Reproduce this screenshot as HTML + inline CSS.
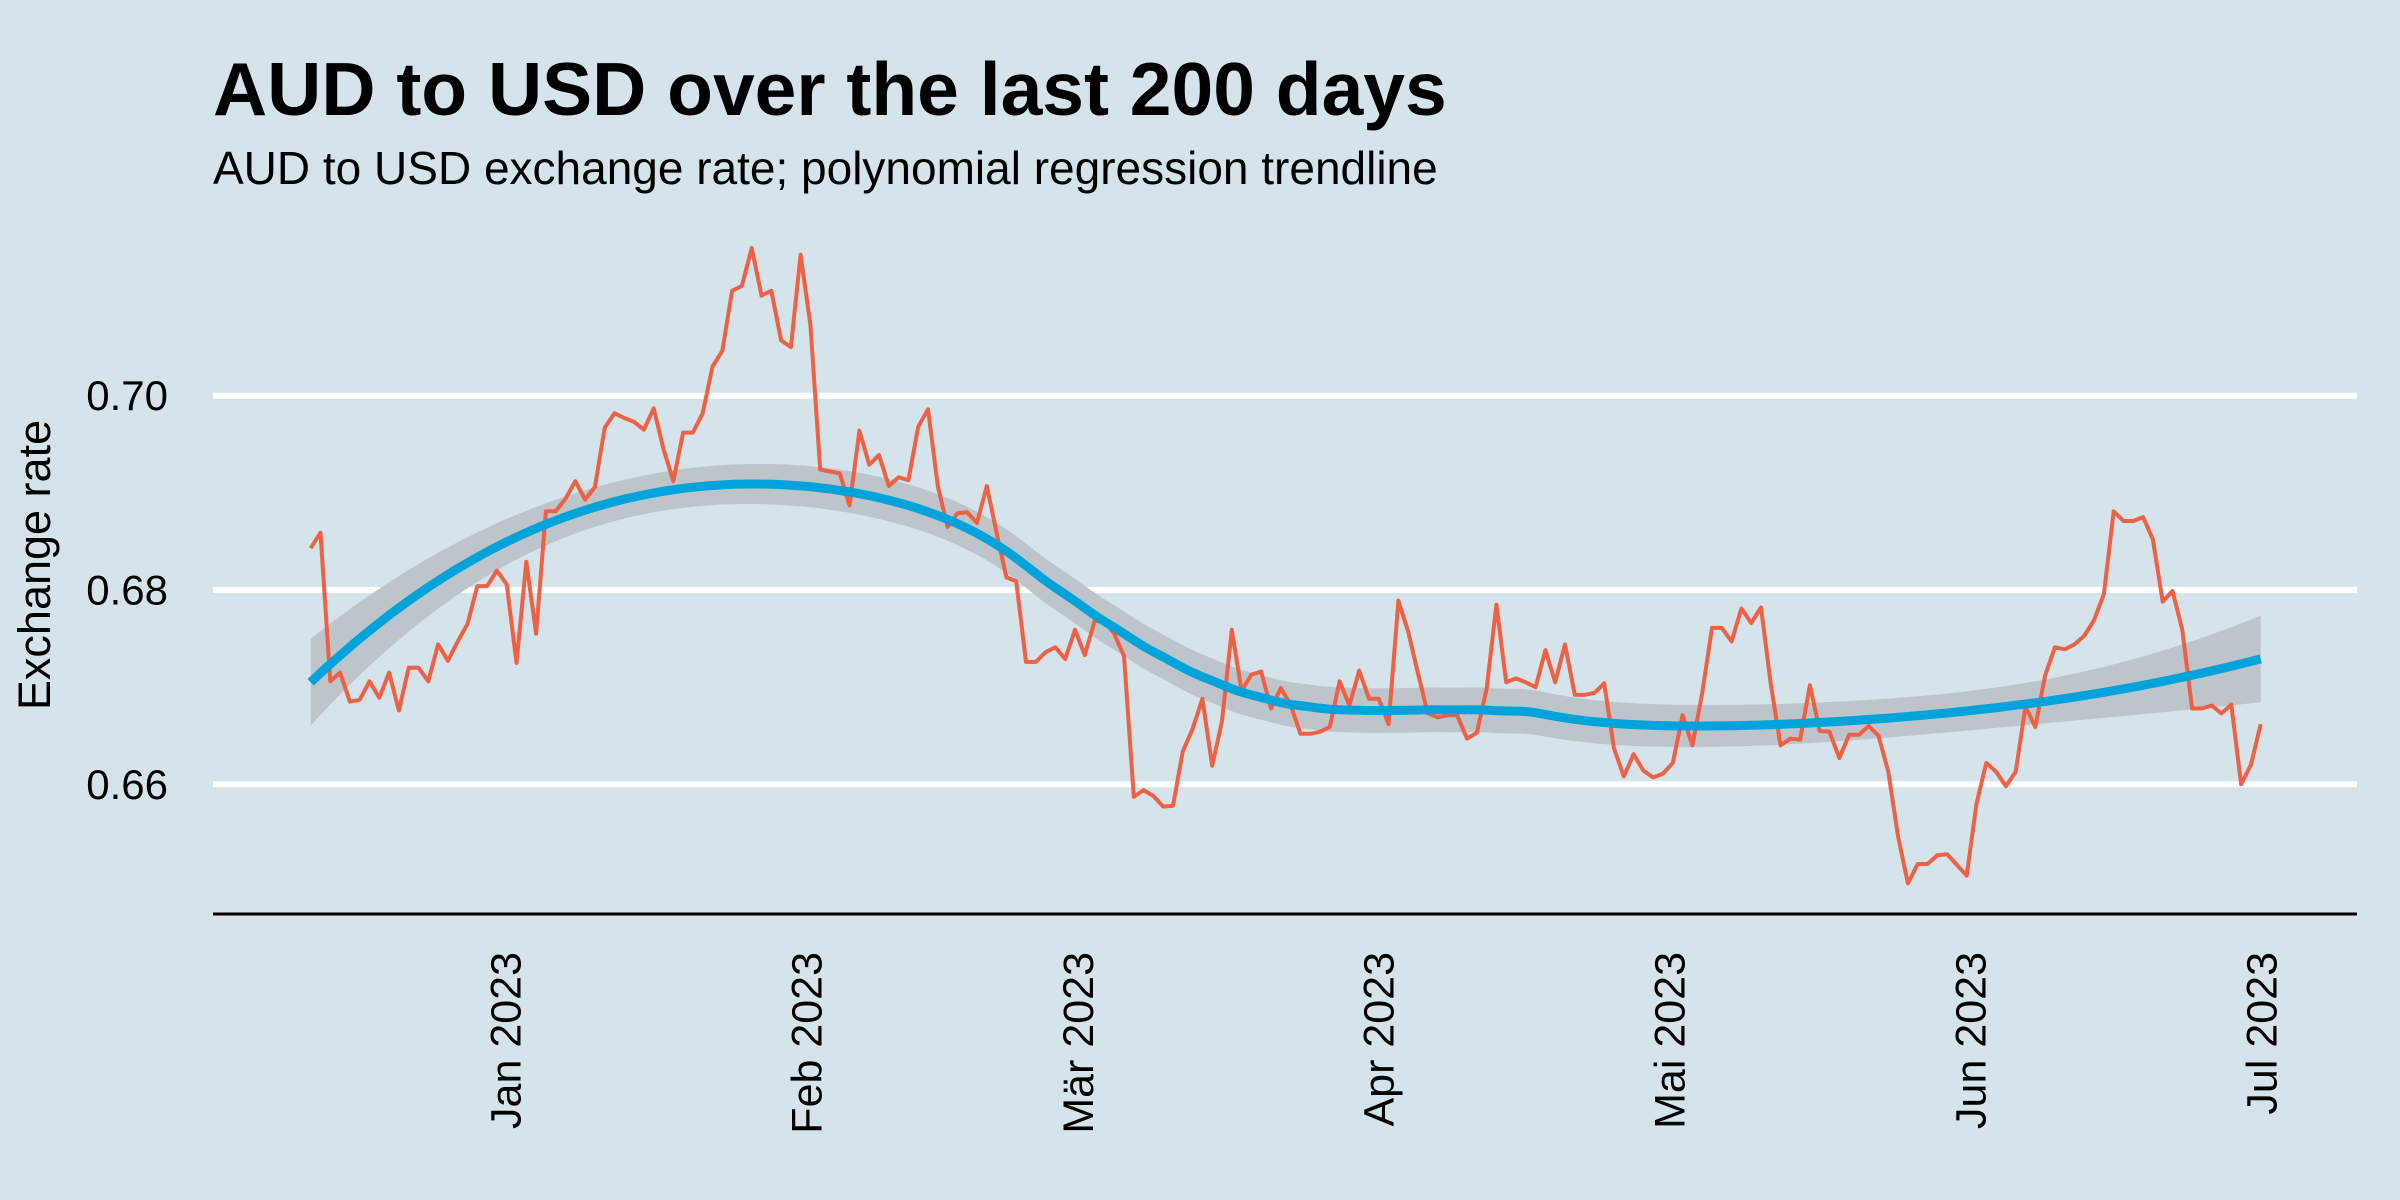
<!DOCTYPE html>
<html><head><meta charset="utf-8">
<style>
html,body{margin:0;padding:0;background:#D5E4EB;}
svg{display:block;font-family:"Liberation Sans",Arial,sans-serif;}
</style></head>
<body>
<svg id="chart" width="2400" height="1200" viewBox="0 0 2400 1200">
<rect x="0" y="0" width="2400" height="1200" fill="#D5E4EB"/>
<text x="213" y="115" font-size="75" font-weight="bold" fill="#000">AUD to USD over the last 200 days</text>
<text x="213" y="184" font-size="46" fill="#000">AUD to USD exchange rate; polynomial regression trendline</text>
<text transform="translate(50,565) rotate(-90)" text-anchor="middle" font-size="45" fill="#000">Exchange rate</text>
<g id="grid"></g>
<g id="band"></g>
<g id="series"></g>
<g id="trend"></g>
<line x1="213" y1="914" x2="2357" y2="914" stroke="#000" stroke-width="3"/>
<g id="xticks"></g>
</svg>
<script>
const rates = [
0.6843,0.6859,0.6706,0.6715,0.6685,0.6687,0.6706,0.6689,0.6715,0.6676,
0.6720,0.6720,0.6706,0.6744,0.6727,0.6747,0.6765,0.6804,0.6804,0.6820,
0.6806,0.6725,0.6829,0.6755,0.6881,0.6881,0.6894,0.6912,0.6893,0.6906,
0.6967,0.6982,0.6977,0.6973,0.6965,0.6987,0.6945,0.6912,0.6962,0.6962,
0.6982,0.7030,0.7046,0.7108,0.7113,0.7152,0.7103,0.7108,0.7057,0.7050,
0.7145,
0.7073,0.6924,0.6922,0.6920,0.6887,0.6964,0.6929,0.6939,0.6907,0.6916,
0.6913,0.6968,0.6986,0.6907,0.6865,0.6879,0.6880,0.6869,0.6907,0.6859,
0.6813,0.6809,0.6726,0.6726,0.6736,0.6741,0.6729,0.6759,0.6733,0.6768,
0.6768,0.6755,0.6732,0.6587,0.6594,0.6588,0.6577,0.6578,0.6634,0.6657,
0.6688,0.6619,0.6665,0.6759,0.6696,0.6713,0.6716,0.6678,0.6699,0.6682,
0.6652,0.6652,
0.6654,0.6659,0.6706,0.6681,0.6717,0.6688,0.6688,0.6662,0.6789,0.6757,
0.6714,0.6673,0.6669,0.6671,0.6671,0.6647,0.6653,0.6698,0.6785,0.6705,
0.6709,0.6705,0.6700,0.6738,0.6705,0.6744,0.6692,0.6692,0.6694,0.6704,
0.6637,0.6608,0.6631,0.6614,0.6607,0.6611,0.6622,0.6671,0.6640,0.6694,
0.6761,0.6761,0.6747,0.6781,0.6766,0.6782,0.6703,0.6640,0.6647,0.6646,
0.6702,
0.6655,0.6654,0.6627,0.6651,0.6651,0.6660,0.6650,0.6613,0.6546,0.6498,
0.6518,0.6518,0.6527,0.6528,0.6517,0.6506,0.6580,0.6622,0.6613,0.6598,
0.6613,0.6680,0.6659,0.6712,0.6741,0.6739,0.6744,0.6753,0.6769,0.6796,
0.6881,0.6871,0.6871,0.6875,0.6852,0.6788,0.6799,0.6759,0.6678,0.6678,
0.6681,0.6673,0.6682,0.6600,0.6620,0.6662
];
const yTicks = [0.66, 0.68, 0.70];
const yTickLabels = ["0.66", "0.68", "0.70"];
const xTickDays = [20, 51, 79, 110, 140, 171, 201]; // days since 2022-12-12
const xTickLabels = ["Jan 2023","Feb 2023","Mär 2023","Apr 2023","Mai 2023","Jun 2023","Jul 2023"];
const loessSpan = 0.75;

const NS = "http://www.w3.org/2000/svg";
function yS(v){ return 590 - (v - 0.68) * 9715; }
function xDay(d){ return 506.6 + (d - 20) * 9.70; }
const X0 = 310.7, X1 = 2260.7;
function xIdx(i){ return X0 + i * (X1 - X0) / (rates.length - 1); }
function mk(tag, attrs, parent){
  const e = document.createElementNS(NS, tag);
  for (const k in attrs) e.setAttribute(k, attrs[k]);
  parent.appendChild(e); return e;
}

const grid = document.getElementById("grid");
yTicks.forEach((v, k) => {
  const ln = mk("line", {x1:213, x2:2357, y1:yS(v), y2:yS(v), stroke:"#fff", "stroke-width":6}, grid);
  
  
  const t = mk("text", {x:168, y:yS(v), "text-anchor":"end", "dominant-baseline":"central", "font-size":42, fill:"#000"}, grid);
  t.textContent = yTickLabels[k];
  
  
});

const xt = document.getElementById("xticks");
xTickDays.forEach((d, k) => {
  const x = xDay(d);
  const t = mk("text", {transform:"translate(" + x + ",952) rotate(-90)", "text-anchor":"end", "dominant-baseline":"central", "font-size":43, fill:"#000"}, xt);
  t.textContent = xTickLabels[k];
  
  
});

// loess (degree 2, tricube) with pointwise standard errors
const n = rates.length;
const q = Math.floor(loessSpan * n);
function inv3(A){
  const M = A.map((r, i) => r.concat([0,1,2].map(j => i === j ? 1 : 0)));
  for (let c = 0; c < 3; c++){
    let piv = c; for (let r = c + 1; r < 3; r++) if (Math.abs(M[r][c]) > Math.abs(M[piv][c])) piv = r;
    [M[c], M[piv]] = [M[piv], M[c]];
    const d = M[c][c]; for (let j = 0; j < 6; j++) M[c][j] /= d;
    for (let r = 0; r < 3; r++) if (r !== c){ const f = M[r][c]; for (let j = 0; j < 6; j++) M[r][j] -= f * M[c][j]; }
  }
  return M.map(r => r.slice(3));
}
function smoother(x0){
  const d = rates.map((_, i) => Math.abs(i - x0));
  const h = d.slice().sort((a, b) => a - b)[q - 1] * 1.0001;
  const w = d.map(v => v < h ? Math.pow(1 - Math.pow(v / h, 3), 3) : 0);
  const A = [[0,0,0],[0,0,0],[0,0,0]];
  const B = rates.map((_, i) => { const u = (i - x0) / 100; return [1, u, u * u]; });
  B.forEach((b, i) => { for (let a = 0; a < 3; a++) for (let c = 0; c < 3; c++) A[a][c] += w[i] * b[a] * b[c]; });
  const I = inv3(A);
  return B.map((b, i) => w[i] * (I[0][0] * b[0] + I[0][1] * b[1] + I[0][2] * b[2]));
}
let ssr = 0, tr1 = 0;
for (let i = 0; i < n; i++){
  const l = smoother(i);
  const f = l.reduce((s, v, j) => s + v * rates[j], 0);
  ssr += (rates[i] - f) * (rates[i] - f);
  tr1 += l[i];
}
const sigma = Math.sqrt(ssr / (n - tr1));

const steps = 240, up = [], lo = [], mid = [];
for (let k = 0; k <= steps; k++){
  const i = k / steps * (n - 1);
  const l = smoother(i);
  const f = l.reduce((s, v, j) => s + v * rates[j], 0);
  const se = sigma * Math.sqrt(l.reduce((s, v) => s + v * v, 0)) * 1.972;
  const x = xIdx(i).toFixed(1);
  mid.push(x + "," + yS(f).toFixed(1));
  up.push(x + "," + yS(f + se).toFixed(1));
  lo.push(x + "," + yS(f - se).toFixed(1));
}
const band = mk("polygon", {points: up.concat(lo.reverse()).join(" "), fill:"#BDC5CB"}, document.getElementById("band"));



const line = mk("polyline", {points: rates.map((v, i) => xIdx(i).toFixed(1) + "," + yS(v).toFixed(1)).join(" "), fill:"none", stroke:"#F05A3C", "stroke-width":4, "stroke-linejoin":"round", "stroke-opacity":0.95}, document.getElementById("series"));



const tr = mk("polyline", {points: mid.join(" "), fill:"none", stroke:"#00A3DA", "stroke-width":9}, document.getElementById("trend"));


</script>
</body></html>
